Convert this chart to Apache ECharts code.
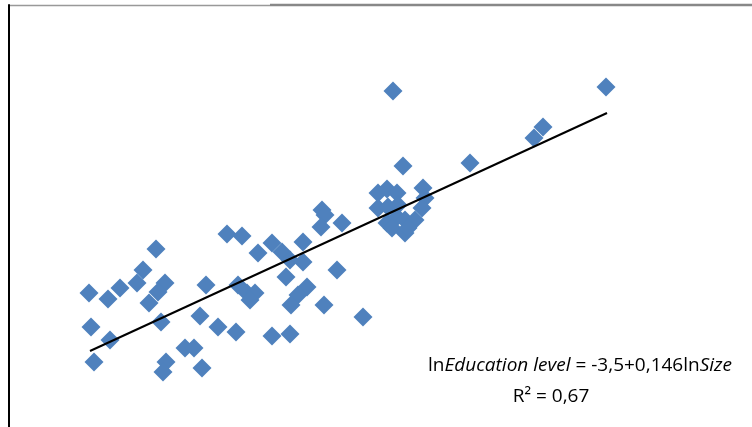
<!DOCTYPE html>
<html>
<head>
<meta charset="utf-8">
<script src="https://cdn.jsdelivr.net/npm/echarts@6/dist/echarts.min.js"></script>
<style>
  html, body { margin: 0; padding: 0; background: #fff; }
  #chart { width: 752px; height: 427px; }
</style>
</head>
<body>
<div id="chart"></div>
<script>
// ln Size (x) and ln Education level (y)
const sizeVals = [606, 393, 543, 534, 470, 403, 378, 387, 397, 423, 425, 422, 378, 388, 398, 387, 397, 405, 415, 392, 405, 408,
  322, 325, 321, 342, 227, 242, 258, 272, 282, 290, 303, 303, 286, 337, 156, 143, 137, 120, 89, 108, 165, 158, 149, 161,
  206, 238, 247, 255, 250, 307, 298, 291, 324, 363, 91, 110, 200, 218, 236, 272, 290, 94, 185, 194, 166, 163, 202];
const eduVals = [340, 336, 300, 289, 264, 261, 234, 238, 234, 239, 229, 219, 219, 220, 222, 204, 210, 207, 207, 199, 194, 199,
  217, 212, 200, 204, 193, 191, 174, 184, 175, 167, 185, 165, 150, 157, 178, 157, 144, 139, 134, 128, 144, 135, 124, 105,
  142, 142, 134, 134, 127, 140, 132, 122, 122, 110, 100, 87, 111, 100, 95, 91, 93, 65, 79, 79, 65, 55, 59];
// linear trend endpoints
const trendX = [90, 607];
const trendY = [76, 314];

const chart = echarts.init(document.getElementById('chart'));

const points = sizeVals.map((x, i) => [x, eduVals[i]]);
const trend = trendX.map((x, i) => [x, trendY[i]]);

const option = {
  animation: false,
  grid: { left: 9, right: 0, top: 5, bottom: 0 },
  xAxis: {
    type: 'value', min: 9, max: 752,
    show: false
  },
  yAxis: {
    type: 'value', min: 0, max: 422,
    axisLine: { show: true, lineStyle: { color: '#000', width: 2 } },
    axisTick: { show: false },
    axisLabel: { show: false },
    splitLine: { show: false }
  },
  series: [
    {
      type: 'scatter',
      symbol: 'diamond',
      symbolSize: 19,
      itemStyle: { color: '#4F81BD', opacity: 1 },
      data: points,
      z: 2
    },
    {
      type: 'line',
      data: trend,
      showSymbol: false,
      lineStyle: { color: '#000', width: 2 },
      z: 3
    }
  ],
  graphic: [
    { type: 'line', shape: { x1: 9, y1: 5.5, x2: 270, y2: 5.5 }, style: { stroke: '#999', lineWidth: 1.5 } },
    { type: 'line', shape: { x1: 270, y1: 5, x2: 752, y2: 5 }, style: { stroke: '#888', lineWidth: 2.5 } },
    {
      type: 'text', x: 580, y: 366,
      style: {
        text: '{n|ln}{i|Education level}{n| = -3,5+0,146ln}{i|Size}',
        align: 'center', verticalAlign: 'middle',
        fill: '#000',
        rich: {
          n: { fontFamily: 'Open Sans', fontSize: 19, fill: '#000' },
          i: { fontFamily: 'Open Sans', fontSize: 19, fontStyle: 'italic', fill: '#000' }
        }
      }
    },
    {
      type: 'text', x: 551, y: 397,
      style: {
        text: 'R² = 0,67',
        align: 'center', verticalAlign: 'middle',
        fill: '#000',
        font: '19px "Open Sans"'
      }
    }
  ]
};

chart.setOption(option);
</script>
</body>
</html>
